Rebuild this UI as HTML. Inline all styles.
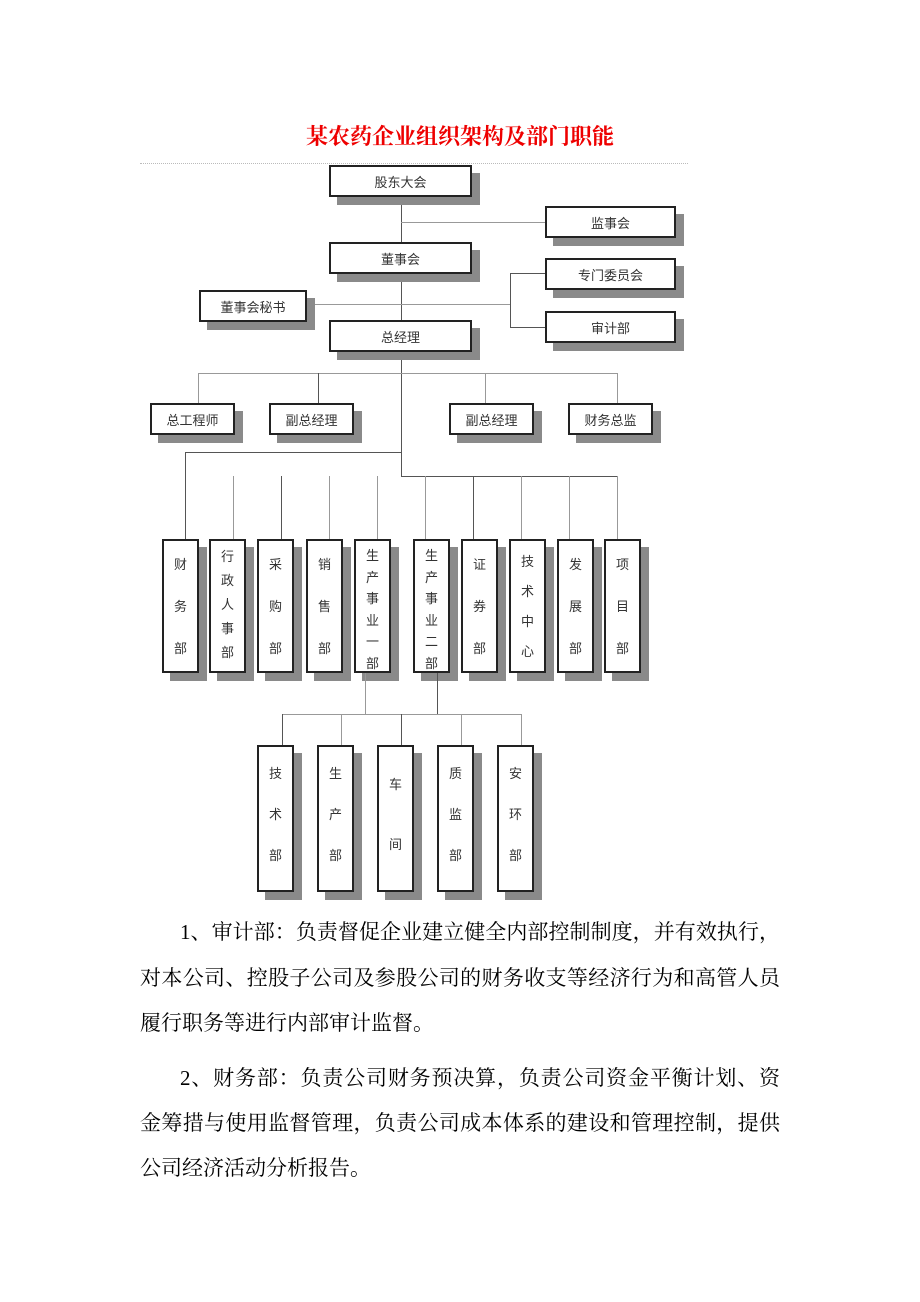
<!DOCTYPE html>
<html><head><meta charset="utf-8"><style>
body{margin:0;width:920px;height:1302px;background:#fff;position:relative;font-family:"Liberation Sans","Noto Sans CJK SC",sans-serif;overflow:hidden}
.a{position:absolute}
.b{position:absolute;background:#fff;border:2px solid #222;box-sizing:border-box;box-shadow:8px 8px 0 #8a8a8a;font-size:13px;color:#333;display:flex;align-items:center;justify-content:center}
.v{position:absolute;background:#fff;border:2px solid #222;box-sizing:border-box;box-shadow:8px 8px 0 #8a8a8a;font-size:13px;color:#333;text-align:center;line-height:24px;padding-top:4px}
.l{position:absolute;background:#555}
.g{position:absolute;background:#999}
.t{position:absolute;white-space:nowrap;font-family:"Liberation Serif","Noto Serif CJK SC",serif;font-size:21px;line-height:30px;color:#000;text-align:justify;text-align-last:justify}
.t.e{text-align-last:left}
</style></head><body>
<div class="a" style="left:0;width:920px;top:120px;text-align:center;color:#e00;font-size:22px;font-family:'Liberation Serif','Noto Serif CJK SC',serif;font-weight:bold">某农药企业组织架构及部门职能</div>
<div class="a" style="left:140px;top:163px;width:548px;border-top:1px dotted #bbb"></div>

<div class="l" style="left:401px;top:197px;width:1px;height:279px"></div>
<div class="g" style="left:401px;top:222px;width:144px;height:1px"></div>
<div class="g" style="left:307px;top:304px;width:203px;height:1px"></div>
<div class="l" style="left:510px;top:273px;width:1px;height:54px"></div>
<div class="l" style="left:510px;top:273px;width:35px;height:1px"></div>
<div class="l" style="left:510px;top:327px;width:35px;height:1px"></div>

<div class="b" style="left:329px;top:165px;width:143px;height:32px">股东大会</div>
<div class="b" style="left:545px;top:206px;width:131px;height:32px">监事会</div>
<div class="b" style="left:329px;top:242px;width:143px;height:32px">董事会</div>
<div class="b" style="left:545px;top:258px;width:131px;height:32px">专门委员会</div>
<div class="b" style="left:545px;top:311px;width:131px;height:32px">审计部</div>
<div class="b" style="left:199px;top:290px;width:108px;height:32px">董事会秘书</div>
<div class="b" style="left:329px;top:320px;width:143px;height:32px">总经理</div>

<div class="g" style="left:198px;top:373px;width:419px;height:1px"></div>
<div class="g" style="left:198px;top:373px;width:1px;height:30px"></div>
<div class="l" style="left:318px;top:373px;width:1px;height:30px"></div>
<div class="g" style="left:485px;top:373px;width:1px;height:30px"></div>
<div class="g" style="left:617px;top:373px;width:1px;height:30px"></div>
<div class="b" style="left:150px;top:403px;width:85px;height:32px">总工程师</div>
<div class="b" style="left:269px;top:403px;width:85px;height:32px">副总经理</div>
<div class="b" style="left:449px;top:403px;width:85px;height:32px">副总经理</div>
<div class="b" style="left:568px;top:403px;width:85px;height:32px">财务总监</div>

<div class="l" style="left:185px;top:452px;width:216px;height:1px"></div>
<div class="l" style="left:185px;top:452px;width:1px;height:87px"></div>
<div class="l" style="left:401px;top:476px;width:216px;height:1px"></div>
<div class="g" style="left:233px;top:476px;width:1px;height:63px"></div>
<div class="l" style="left:281px;top:476px;width:1px;height:63px"></div>
<div class="g" style="left:329px;top:476px;width:1px;height:63px"></div>
<div class="g" style="left:377px;top:476px;width:1px;height:63px"></div>
<div class="g" style="left:425px;top:476px;width:1px;height:63px"></div>
<div class="l" style="left:473px;top:476px;width:1px;height:63px"></div>
<div class="g" style="left:521px;top:476px;width:1px;height:63px"></div>
<div class="g" style="left:569px;top:476px;width:1px;height:63px"></div>
<div class="g" style="left:617px;top:476px;width:1px;height:63px"></div>

<div class="v" style="left:162px;top:539px;width:37px;height:134px;line-height:42px;padding-top:3px">财<br>务<br>部</div>
<div class="v" style="left:209px;top:539px;width:37px;height:134px">行<br>政<br>人<br>事<br>部</div>
<div class="v" style="left:257px;top:539px;width:37px;height:134px;line-height:42px;padding-top:3px">采<br>购<br>部</div>
<div class="v" style="left:306px;top:539px;width:37px;height:134px;line-height:42px;padding-top:3px">销<br>售<br>部</div>
<div class="v" style="left:354px;top:539px;width:37px;height:134px;line-height:21.5px">生<br>产<br>事<br>业<br>一<br>部</div>
<div class="v" style="left:413px;top:539px;width:37px;height:134px;line-height:21.5px">生<br>产<br>事<br>业<br>二<br>部</div>
<div class="v" style="left:461px;top:539px;width:37px;height:134px;line-height:42px;padding-top:3px">证<br>券<br>部</div>
<div class="v" style="left:509px;top:539px;width:37px;height:134px;line-height:30px;padding-top:6px">技<br>术<br>中<br>心</div>
<div class="v" style="left:557px;top:539px;width:37px;height:134px;line-height:42px;padding-top:3px">发<br>展<br>部</div>
<div class="v" style="left:604px;top:539px;width:37px;height:134px;line-height:42px;padding-top:3px">项<br>目<br>部</div>

<div class="g" style="left:365px;top:673px;width:1px;height:41px"></div>
<div class="l" style="left:437px;top:673px;width:1px;height:41px"></div>
<div class="g" style="left:282px;top:714px;width:239px;height:1px"></div>
<div class="l" style="left:282px;top:714px;width:1px;height:31px"></div>
<div class="g" style="left:341px;top:714px;width:1px;height:31px"></div>
<div class="l" style="left:401px;top:714px;width:1px;height:31px"></div>
<div class="g" style="left:461px;top:714px;width:1px;height:31px"></div>
<div class="g" style="left:521px;top:714px;width:1px;height:31px"></div>

<div class="v" style="left:257px;top:745px;width:37px;height:147px;line-height:41px;padding-top:6px">技<br>术<br>部</div>
<div class="v" style="left:317px;top:745px;width:37px;height:147px;line-height:41px;padding-top:6px">生<br>产<br>部</div>
<div class="v" style="left:377px;top:745px;width:37px;height:147px;line-height:60px;padding-top:8px">车<br>间</div>
<div class="v" style="left:437px;top:745px;width:37px;height:147px;line-height:41px;padding-top:6px">质<br>监<br>部</div>
<div class="v" style="left:497px;top:745px;width:37px;height:147px;line-height:41px;padding-top:6px">安<br>环<br>部</div>

<div class="t" style="left:180px;top:917px;width:600px">1、审计部：负责督促企业建立健全内部控制制度，并有效执行，</div>
<div class="t" style="left:140px;top:963px;width:640px">对本公司、控股子公司及参股公司的财务收支等经济行为和高管人员</div>
<div class="t e" style="left:140px;top:1008px;width:640px">履行职务等进行内部审计监督。</div>
<div class="t" style="left:180px;top:1063px;width:600px">2、财务部：负责公司财务预决算，负责公司资金平衡计划、资</div>
<div class="t" style="left:140px;top:1108px;width:640px">金筹措与使用监督管理，负责公司成本体系的建设和管理控制，提供</div>
<div class="t e" style="left:140px;top:1153px;width:640px">公司经济活动分析报告。</div>
</body></html>
